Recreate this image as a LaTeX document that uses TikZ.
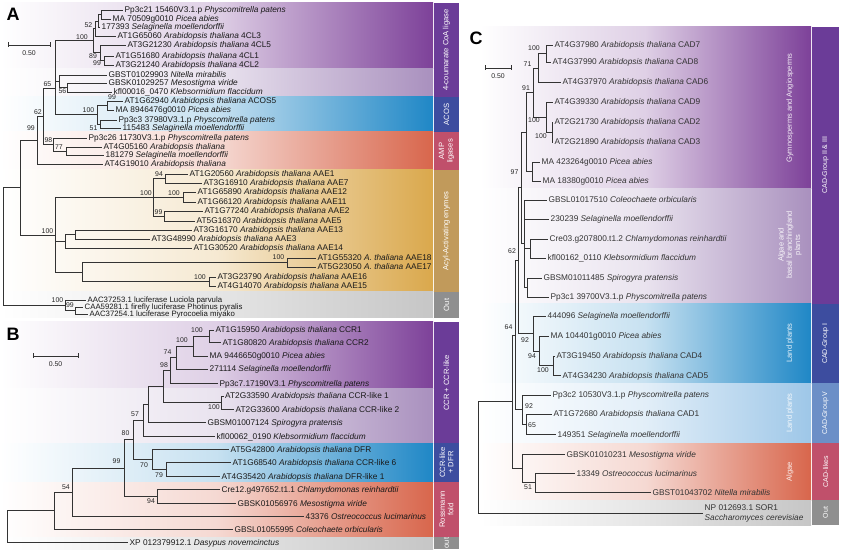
\documentclass[tikz,border=0pt]{standalone}
\usepackage{fontspec}
\setmainfont{Liberation Sans}
\definecolor{pur}{HTML}{7D4199}
\definecolor{lpur}{HTML}{A990BE}
\definecolor{blu}{HTML}{1F87C6}
\definecolor{red}{HTML}{D8664C}
\definecolor{gold}{HTML}{DAA84C}
\definecolor{gry}{HTML}{C6C6C6}
\definecolor{lblu}{HTML}{9EC7E8}
\definecolor{sPur}{HTML}{6B3C98}
\definecolor{sBlu}{HTML}{3D4D9F}
\definecolor{sRed}{HTML}{C0506B}
\definecolor{sGold}{HTML}{C19A5B}
\definecolor{sGry}{HTML}{8F8F8F}
\definecolor{sLblu}{HTML}{6C8FC7}
\newcommand\tipat[4]{\coordinate (#1) at (#2,#3); \node[tip] (#1t) at (#1) {#4};}
\newcommand\ncoord[3]{\coordinate (#1) at (#2,#3);}
\newcommand\AT{\textit{Arabidopsis thaliana}}
\begin{document}
\begin{tikzpicture}[x=1pt,y=-1pt,
  br/.style={draw=black!80, line width=0.55pt},
  tip/.style={anchor=base west, inner sep=0pt, xshift=1.5pt, yshift=-3pt, font=\fontsize{8.3}{9}\selectfont, text=black!90},
  bs/.style={inner sep=0pt, font=\fontsize{6.9}{7}\selectfont, text=black!85},
  strip/.style={rotate=90, text=white, align=center, inner sep=0pt, font=\fontsize{7.6}{8.4}\selectfont},
  sub/.style={rotate=90, text=white, align=center, inner sep=0pt, opacity=0.9, font=\fontsize{7.5}{8.3}\selectfont},
  panel/.style={inner sep=0pt, font=\fontsize{18}{18}\selectfont\bfseries},
  sbar/.style={draw=black!80, line width=0.6pt}]
\useasboundingbox (0,0) rectangle (841,553);

% ---------- bands panel A
\shade[left color=white, right color=pur, middle color=pur!25] (0,3) rectangle (433,69);
\shade[left color=white, right color=lpur, middle color=lpur!25] (0,69) rectangle (433,97);
\shade[left color=white, right color=blu, middle color=blu!25] (0,97) rectangle (433,132);
\shade[left color=white, right color=red, middle color=red!25] (0,132) rectangle (433,170);
\shade[left color=white, right color=gold, middle color=gold!25] (0,170) rectangle (433,292);
\shade[left color=white, right color=gry, middle color=gry!45] (0,292) rectangle (433,318);
\fill[sPur] (434,3) rectangle (459,97);
\fill[sBlu] (434,97) rectangle (459,132);
\fill[sRed] (434,132) rectangle (459,170);
\fill[sGold] (434,170) rectangle (459,292);
\fill[sGry] (434,292) rectangle (459,318);
\node[strip] (sa1) at (446.5,50) {4-coumarate CoA ligase};
\node[strip] (sa2) at (446.5,114.5) {ACOS};
\node[strip] (sa3) at (446.5,151) {AMP\\ligases};
\node[strip] (sa4) at (446.5,231) {Acyl-Activating enymes};
\node[strip] (sa5) at (446.5,305) {Out};

% ---------- bands panel B
\shade[left color=white, right color=pur, middle color=pur!25] (0,322) rectangle (433,388);
\shade[left color=white, right color=lpur, middle color=lpur!25] (0,388) rectangle (433,443);
\shade[left color=white, right color=blu, middle color=blu!25] (0,443) rectangle (433,482);
\shade[left color=white, right color=red, middle color=red!25] (0,482) rectangle (433,537);
\shade[left color=white, right color=gry, middle color=gry!45] (0,537) rectangle (433,549);
\fill[sPur] (434,322) rectangle (459,443);
\fill[sBlu] (434,443) rectangle (459,482);
\fill[sRed] (434,482) rectangle (459,537);
\fill[sGry] (434,537) rectangle (459,549);
\node[strip] (sb1) at (446.5,383) {CCR + CCR-like};
\node[strip] (sb2) at (446.5,462.5) {CCR-like\\+ DFR};
\node[strip] (sb3) at (446.5,509.5) {Rossmann\\fold};
\node[strip] (sb4) at (446.5,543) {out};

% ---------- bands panel C
\shade[left color=white, right color=pur, middle color=pur!25] (480,27) rectangle (811,189);
\shade[left color=white, right color=lpur, middle color=lpur!25] (480,189) rectangle (811,304);
\shade[left color=white, right color=blu, middle color=blu!25] (480,304) rectangle (811,383);
\shade[left color=white, right color=lblu, middle color=lblu!30] (480,383) rectangle (811,443);
\shade[left color=white, right color=red, middle color=red!25] (480,443) rectangle (811,500);
\shade[left color=white, right color=gry, middle color=gry!45] (480,500) rectangle (811,525);
\fill[sPur] (812,27) rectangle (839,304);
\fill[sBlu] (812,304) rectangle (839,383);
\fill[sLblu] (812,383) rectangle (839,443);
\fill[sRed] (812,443) rectangle (839,500);
\fill[sGry] (812,500) rectangle (839,525);
\node[strip, font=\fontsize{7}{8}\selectfont] (sc1) at (825.5,165) {CAD-Group II \& III};
\node[strip, font=\fontsize{7}{8}\selectfont] (sc2) at (825.5,343.5) {CAD-Group I};
\node[strip, font=\fontsize{7}{8}\selectfont] (sc3) at (825.5,413) {CAD-Group V};
\node[strip, font=\fontsize{7}{8}\selectfont] (sc4) at (825.5,471.5) {CAD-likes};
\node[strip, font=\fontsize{7}{8}\selectfont] (sc5) at (825.5,512.5) {Out};
\node[sub] (su1) at (790,108) {Gymnosperms and Angiosperms};
\node[sub] (su2) at (790,245) {Algae and\\basal branchingland\\plants};
\node[sub] (su3) at (790,343) {Land plants};
\node[sub] (su4) at (790,413) {Land plants};
\node[sub] (su5) at (790,472) {Algae};

% ---------- panel letters and scale bars
\node[panel] (pA) at (13,14) {A};
\node[panel] (pB) at (13,334) {B};
\node[panel] (pC) at (476,38) {C};
\draw[sbar] (8,42.5) -- (8,47.5) (8,45) -- (50,45) (50,42.5) -- (50,47.5);
\node[bs] (scA) at (29,53) {0.50};
\draw[sbar] (33,353.5) -- (33,358.5) (33,356) -- (78,356) (78,353.5) -- (78,358.5);
\node[bs] (scB) at (55.5,364) {0.50};
\draw[sbar] (485,65.5) -- (485,70.5) (485,68) -- (511,68) (511,65.5) -- (511,70.5);
\node[bs] (scC) at (498,76) {0.50};

% ================= PANEL A tips
\tipat{a1}{123}{10}{Pp3c21 15460V3.1.p \textit{Physcomitrella patens}}
\tipat{a2}{111}{19}{MA 70509g0010 \textit{Picea abies}}
\tipat{a3}{100}{27}{177393 \textit{Selaginella moellendorffii}}
\tipat{a4}{116}{36}{AT1G65060 \AT\ 4CL3}
\tipat{a5}{126}{45}{AT3G21230 \AT\ 4CL5}
\tipat{a6}{114}{56}{AT1G51680 \AT\ 4CL1}
\tipat{a7}{114}{65}{AT3G21240 \AT\ 4CL2}
\tipat{a8}{107}{75}{GBST01029903 \textit{Nitella mirabilis}}
\tipat{a9}{107}{83}{GBSK01029257 \textit{Mesostigma viride}}
\tipat{a10}{112}{92}{kfl00016\_0470 \textit{Klebsormidium flaccidum}}
\tipat{a11}{123}{101}{AT1G62940 \AT\ ACOS5}
\tipat{a12}{114}{110}{MA 8946476g0010 \textit{Picea abies}}
\tipat{a13}{117}{120}{Pp3c3 37980V3.1.p \textit{Physcomitrella patens}}
\tipat{a14}{121}{128}{115483 \textit{Selaginella moellendorffii}}
\tipat{a15}{87}{138}{Pp3c26 11730V3.1.p \textit{Physcomitrella patens}}
\tipat{a16}{102}{147}{AT4G05160 \AT}
\tipat{a17}{104}{155}{181279 \textit{Selaginella moellendorffii}}
\tipat{a18}{103}{164}{AT4G19010 \AT}
\tipat{a19}{188}{174}{AT1G20560 \AT\ AAE1}
\tipat{a20}{202}{183}{AT3G16910 \AT\ AAE7}
\tipat{a21}{196}{192}{AT1G65890 \AT\ AAE12}
\tipat{a22}{196}{202}{AT1G66120 \AT\ AAE11}
\tipat{a23}{203}{211}{AT1G77240 \AT\ AAE2}
\tipat{a24}{195}{221}{AT5G16370 \AT\ AAE5}
\tipat{a25}{192}{230}{AT3G16170 \AT\ AAE13}
\tipat{a26}{150}{239}{AT3G48990 \AT\ AAE3}
\tipat{a27}{192}{248}{AT1G30520 \AT\ AAE14}
\tipat{a28}{316}{258}{AT1G55320 \textit{A. thaliana} AAE18}
\tipat{a29}{316}{267}{AT5G23050 \textit{A. thaliana} AAE17}
\tipat{a30}{216}{277}{AT3G23790 \AT\ AAE16}
\tipat{a31}{216}{286}{AT4G14070 \AT\ AAE15}
\begin{scope}[tip/.append style={font=\fontsize{7.8}{8}\selectfont}]
\tipat{a32}{86}{300}{AAC37253.1 luciferase Luciola parvula}
\tipat{a33}{83}{307}{CAA59281.1 firefly luciferase Photinus pyralis}
\tipat{a34}{88}{314}{AAC37254.1 luciferase Pyrocoelia miyako}
\end{scope}

% PANEL A internal nodes
\ncoord{nA1}{101}{14.5}
\ncoord{nA2}{98}{21}
\ncoord{nA3}{95}{28.5}
\ncoord{nA4}{104}{60.5}
\ncoord{nA5}{100}{52.75}
\ncoord{nA6}{93}{40.6}
\ncoord{nA7}{67}{87.5}
\ncoord{nA8}{59}{81}
\ncoord{nA9}{107}{105.5}
\ncoord{nA10}{100}{124}
\ncoord{nA11}{97}{114.75}
\ncoord{nA12}{55}{88}
\ncoord{nA13}{66}{151}
\ncoord{nA14}{53}{144.5}
\ncoord{nA15}{43}{116}
\ncoord{nA16}{37}{140}
\ncoord{nA17}{165}{178.5}
\ncoord{nA18}{183}{197}
\ncoord{nA19}{164}{216}
\ncoord{nA20}{153}{197}
\ncoord{nA21}{75}{234.5}
\ncoord{nA22}{65}{241}
\ncoord{nA23}{287}{262.5}
\ncoord{nA24}{209}{281.5}
\ncoord{nA25}{82}{272}
\ncoord{nA26}{55}{235}
\ncoord{nA27}{20}{187.5}
\ncoord{nA28}{75}{310.5}
\ncoord{nA29}{65}{305}
\ncoord{nAR}{3}{246}
\foreach \p/\c in {nA1/a1,nA1/a2,nA2/nA1,nA2/a3,nA3/nA2,nA3/a4,nA4/a6,nA4/a7,nA5/a5,nA5/nA4,nA6/nA3,nA6/nA5,
  nA7/a9,nA7/a10,nA8/a8,nA8/nA7,nA9/a11,nA9/a12,nA10/a13,nA10/a14,nA11/nA9,nA11/nA10,
  nA12/nA6,nA12/nA8,nA12/nA11,nA13/a16,nA13/a17,nA14/a15,nA14/nA13,nA15/nA12,nA15/nA14,nA16/nA15,nA16/a18,
  nA17/a19,nA17/a20,nA18/a21,nA18/a22,nA19/a23,nA19/a24,nA20/nA17,nA20/nA18,nA20/nA19,
  nA21/a25,nA21/a26,nA22/nA21,nA22/a27,nA23/a28,nA23/a29,nA24/a30,nA24/a31,nA25/nA23,nA25/nA24,
  nA26/nA20,nA26/nA22,nA26/nA25,nA27/nA16,nA27/nA26,nA28/a33,nA28/a34,nA29/a32,nA29/nA28,nAR/nA27,nAR/nA29}
  \draw[br] (\p) |- (\c);
\foreach \n/\x/\y/\t in {lA1/88.5/25/52,lA2/82/36.7/100,lA3/93/56/89,lA4/97/63.5/99,lA5/47.5/84/65,lA6/62.5/91/56,
  lA7/112/97.5/99,lA8/88.5/110/100,lA9/93.5/128/51,lA10/38/112/62,lA11/31/128.5/99,lA12/48.5/140/98,lA13/59/147.5/77,
  lA14/159/174.5/94,lA15/146/193/100,lA16/174/193/100,lA17/158.5/212.5/99,lA18/47.5/231/100,lA19/278.5/257.5/100,
  lA20/200/277.5/100,lA21/57.5/300.5/100,lA22/70/305.5/99}
  \node[bs] (\n) at (\x,\y) {\t};

% ================= PANEL B
\tipat{b1}{214}{330}{AT1G15950 \AT\ CCR1}
\tipat{b2}{221}{342}{AT1G80820 \AT\ CCR2}
\tipat{b3}{208}{356}{MA 9446650g0010 \textit{Picea abies}}
\tipat{b4}{208}{369}{271114 \textit{Selaginella moellendorffii}}
\tipat{b5}{218}{383}{Pp3c7.17190V3.1 \textit{Physcomitrella patens}}
\tipat{b6}{223.5}{396}{AT2G33590 \AT\ CCR-like 1}
\tipat{b7}{234}{409}{AT2G33600 \AT\ CCR-like 2}
\tipat{b8}{206}{422}{GBSM01007124 \textit{Spirogyra pratensis}}
\tipat{b9}{215}{436}{kfl00062\_0190 \textit{Klebsormidium flaccidum}}
\tipat{b10}{229}{449}{AT5G42800 \AT\ DFR}
\tipat{b11}{231}{462}{AT1G68540 \AT\ CCR-like 6}
\tipat{b12}{220}{476}{AT4G35420 \AT\ DFR-like 1}
\tipat{b13}{220}{489}{Cre12.g497652.t1.1 \textit{Chlamydomonas reinhardtii}}
\tipat{b14}{236}{503}{GBSK01056976 \textit{Mesostigma viride}}
\tipat{b15}{304}{516}{43376 \textit{Ostreococcus lucimarinus}}
\tipat{b16}{233}{529}{GBSL01055995 \textit{Coleochaete orbicularis}}
\tipat{b17}{128}{542}{XP 012379912.1 \textit{Dasypus novemcinctus}}
\ncoord{nb1}{209}{336}
\ncoord{nb2}{193}{346}
\ncoord{nb3}{176}{357.5}
\ncoord{nb4}{170}{370}
\ncoord{nb5}{221.5}{402.5}
\ncoord{nb6}{163}{386}
\ncoord{nb7}{148}{404}
\ncoord{nb8}{143}{420}
\ncoord{nb9}{166}{469}
\ncoord{nb10}{152}{459}
\ncoord{nb11}{133}{439.5}
\ncoord{nb12}{157}{496}
\ncoord{nb13}{124}{468}
\ncoord{nb14}{72}{492}
\ncoord{nb15}{54}{510.5}
\ncoord{nbR}{7}{526}
\foreach \p/\c in {nb1/b1,nb1/b2,nb2/nb1,nb2/b3,nb3/nb2,nb3/b4,nb4/nb3,nb4/b5,nb5/b6,nb5/b7,nb6/nb4,nb6/nb5,
  nb7/nb6,nb7/b8,nb8/nb7,nb8/b9,nb9/b11,nb9/b12,nb10/b10,nb10/nb9,nb11/nb8,nb11/nb10,nb12/b13,nb12/b14,
  nb13/nb11,nb13/nb12,nb14/nb13,nb14/b15,nb15/nb14,nb15/b16,nbR/nb15,nbR/b17}
  \draw[br] (\p) |- (\c);
\foreach \n/\x/\y/\t in {lB1/197/330/100,lB2/182/340/100,lB3/167.5/352.5/74,lB4/164/365.5/98,lB5/214/407/100,
  lB6/135/414/57,lB7/125.5/433/80,lB8/144/465/70,lB9/159/475/79,lB10/116.5/461.5/99,lB11/151/501/94,lB12/66/487/54}
  \node[bs] (\n) at (\x,\y) {\t};

% ================= PANEL C
\begin{scope}[tip/.append style={text=black!80}]
\tipat{c1}{553}{45}{AT4G37980 \AT\ CAD7}
\tipat{c2}{551}{62}{AT4G37990 \AT\ CAD8}
\tipat{c3}{561}{82}{AT4G37970 \AT\ CAD6}
\tipat{c4}{553}{102}{AT4G39330 \AT\ CAD9}
\tipat{c5}{553}{122}{AT2G21730 \AT\ CAD2}
\tipat{c6}{553}{142}{AT2G21890 \AT\ CAD3}
\tipat{c7}{540}{162}{MA 423264g0010 \textit{Picea abies}}
\tipat{c8}{541}{181}{MA 18380g0010 \textit{Picea abies}}
\tipat{c9}{547}{200}{GBSL01017510 \textit{Coleochaete orbicularis}}
\tipat{c10}{549}{219}{230239 \textit{Selaginella moellendorffii}}
\tipat{c11}{548}{239}{Cre03.g207800.t1.2 \textit{Chlamydomonas reinhardtii}}
\tipat{c12}{546}{258}{kfl00162\_0110 \textit{Klebsormidium flaccidum}}
\tipat{c13}{542}{278}{GBSM01011485 \textit{Spirogyra pratensis}}
\tipat{c14}{549}{297}{Pp3c1 39700V3.1.p \textit{Physcomitrella patens}}
\tipat{c15}{546}{316}{444096 \textit{Selaginella moellendorffii}}
\tipat{c16}{549}{336}{MA 104401g0010 \textit{Picea abies}}
\tipat{c17}{555}{356}{AT3G19450 \AT\ CAD4}
\tipat{c18}{561}{375}{AT4G34230 \AT\ CAD5}
\tipat{c19}{551}{395}{Pp3c2 10530V3.1.p \textit{Physcomitrella patens}}
\tipat{c20}{552}{414}{AT1G72680 \AT\ CAD1}
\tipat{c21}{556}{434}{149351 \textit{Selaginella moellendorffii}}
\tipat{c22}{565}{454}{GBSK01010231 \textit{Mesostigma viride}}
\tipat{c23}{575}{473}{13349 \textit{Ostreococcus lucimarinus}}
\tipat{c24}{651}{492}{GBST01043702 \textit{Nitella mirabilis}}
\end{scope}
\coordinate (c25) at (703,513);
\node[anchor=west, align=left, inner sep=0pt, xshift=1.5pt, font=\fontsize{8.3}{10}\selectfont, text=black!80] (c25t) at (c25) {NP 012693.1 SOR1\\\textit{Saccharomyces cerevisiae}};
\ncoord{nC1}{546}{53.5}
\ncoord{nC71}{538}{68}
\ncoord{nC100b}{552}{132}
\ncoord{nC100a}{546}{117}
\ncoord{nC91}{533}{92.5}
\ncoord{nMA}{532}{171.5}
\ncoord{nGA}{526}{132}
\ncoord{nCk}{530}{248.5}
\ncoord{nCp}{527}{287.5}
\ncoord{nBas}{524}{243}
\ncoord{n97}{521}{187.5}
\ncoord{nC100c}{553}{365.5}
\ncoord{nC94}{539}{351}
\ncoord{nC92}{533}{333.5}
\ncoord{nC65}{526}{424}
\ncoord{nLV}{522}{409.5}
\ncoord{n62}{518}{260.5}
\ncoord{n64}{515}{335}
\ncoord{nC51}{535}{482.5}
\ncoord{nAlg}{522}{468}
\ncoord{nIn}{512}{401.5}
\ncoord{nCR}{478}{457}
\foreach \p/\c in {nC1/c1,nC1/c2,nC71/nC1,nC71/c3,nC100b/c5,nC100b/c6,nC100a/c4,nC100a/nC100b,nC91/nC71,nC91/nC100a,
  nMA/c7,nMA/c8,nGA/nC91,nGA/nMA,nCk/c11,nCk/c12,nCp/c13,nCp/c14,nBas/c9,nBas/c10,nBas/nCk,nBas/nCp,
  n97/nGA,n97/nBas,nC100c/c17,nC100c/c18,nC94/c16,nC94/nC100c,nC92/c15,nC92/nC94,nC65/c20,nC65/c21,
  nLV/c19,nLV/nC65,n62/n97,n62/nC92,n64/n62,n64/nLV,nC51/c23,nC51/c24,nAlg/c22,nAlg/nC51,nIn/n64,nIn/nAlg,
  nCR/nIn,nCR/c25}
  \draw[br] (\p) |- (\c);
\foreach \n/\x/\y/\t in {lC1/534/48.5/100,lC2/527.5/64.5/71,lC3/526/88/91,lC4/534/120.5/100,lC5/541/136/100,
  lC6/514.5/172/97,lC7/512/251/62,lC8/508.5/327/64,lC9/525/340/92,lC10/532/356/94,lC11/543/370/100,
  lC12/529/406.5/92,lC13/532/425/65,lC14/528/487/51}
  \node[bs] (\n) at (\x,\y) {\t};
\end{tikzpicture}
\end{document}
